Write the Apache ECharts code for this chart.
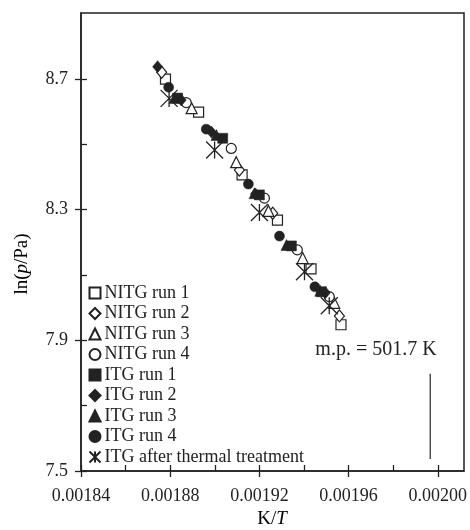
<!DOCTYPE html>
<html>
<head>
<meta charset="utf-8">
<script src="https://cdn.jsdelivr.net/npm/echarts@6/dist/echarts.min.js"></script>
<style>html,body{margin:0;padding:0;background:#fff;}#c{width:470px;height:530px;}</style>
</head>
<body>
<div id="c"></div>
<script>
// ---- data ----
var xTicks = [0.00184, 0.00188, 0.00192, 0.00196, 0.00200];
var yTicks = [7.5, 7.9, 8.3, 8.7];
var seriesNames = ['NITG run 1','NITG run 2','NITG run 3','NITG run 4','ITG run 1','ITG run 2','ITG run 3','ITG run 4','ITG after thermal treatment'];
var nitg1 = [[0.0018775,8.698],[0.0018922,8.597],[0.0019115,8.405],[0.0019272,8.267],[0.0019421,8.118],[0.0019554,7.947]];
var nitg2 = [[0.0018758,8.719],[0.0019103,8.420],[0.0019251,8.288],[0.0019547,7.974]];
var nitg3 = [[0.0018891,8.609],[0.0019089,8.444],[0.0019232,8.295],[0.0019384,8.151],[0.0019524,8.014]];
var nitg4 = [[0.0018867,8.626],[0.0019067,8.486],[0.0019214,8.334],[0.0019360,8.176],[0.0019502,8.033]];
var itg1 = [[0.0018829,8.640],[0.0019029,8.517],[0.0019192,8.344],[0.0019334,8.188],[0.0019467,8.048]];
var itg2 = [[0.0018740,8.736],[0.0018845,8.634],[0.0018979,8.536],[0.0019174,8.347],[0.0019485,8.045]];
var itg3 = [[0.0018815,8.640],[0.0019001,8.527],[0.0019170,8.349],[0.0019312,8.191],[0.0019462,8.051]];
var itg4 = [[0.0018789,8.673],[0.0018956,8.545],[0.0019143,8.377],[0.0019281,8.218],[0.0019438,8.063]];
var itgHeat = [[0.0018791,8.639],[0.0018993,8.481],[0.0019192,8.290],[0.0019392,8.109],[0.0019502,8.005]];
var mpLine = [[0.001995,7.537],[0.001995,7.797]];
var mpText = 'm.p. = 501.7 K';

var INK = '#222';
var FONT = '"Liberation Serif","DejaVu Serif",serif';
var STAR = 'path://M0,0L10,10M10,0L0,10M5,0L5,10';

function sc(name, data, symbol, size, filled) {
  return {
    name: name, type: 'scatter', xAxisIndex: 0, yAxisIndex: 0,
    data: data, symbol: symbol, symbolSize: size,
    itemStyle: filled ? {color: INK, borderColor: INK, borderWidth: 0.5, opacity: 1}
                      : {color: '#fff', borderColor: INK, borderWidth: 1.2, opacity: 1},
    z: 3
  };
}

var chart = echarts.init(document.getElementById('c'), null, {renderer: 'canvas'});
var axisText = {color: INK, fontFamily: FONT, fontSize: 18};
var G0 = {left: 81, right: 6, top: 13, bottom: 59};
var G1 = {left: 81, right: 28, top: 79, bottom: 59};

chart.setOption({
  animation: false,
  backgroundColor: '#fff',
  grid: [
    {left: G0.left, right: G0.right, top: G0.top, bottom: G0.bottom, show: true, borderColor: INK, borderWidth: 1.5, backgroundColor: 'transparent'},
    {left: G1.left, right: G1.right, top: G1.top, bottom: G1.bottom, show: false}
  ],
  xAxis: [
    {gridIndex: 0, type: 'value', min: 0.00184, max: 0.00201, position: 'bottom',
     axisLine: {lineStyle: {color: INK, width: 1.5}}, axisTick: {show: false}, axisLabel: {show: false}, splitLine: {show: false}},
    {gridIndex: 1, type: 'value', min: xTicks[0], max: xTicks[xTicks.length-1], interval: 0.00004, position: 'bottom',
     axisLine: {show: false}, axisTick: {show: true, inside: true, length: 6, lineStyle: {color: INK, width: 1.3}},
     minorTick: {show: true, splitNumber: 2, length: 6, lineStyle: {color: INK, width: 1.3}},
     axisLabel: {show: false}, splitLine: {show: false}},
    {gridIndex: 1, type: 'value', min: xTicks[0], max: xTicks[xTicks.length-1], interval: 0.00004, position: 'bottom',
     axisLine: {show: false}, axisTick: {show: true, inside: false, length: 6, lineStyle: {color: INK, width: 1.3}},
     axisLabel: Object.assign({margin: 16, formatter: function(v){return v.toFixed(5);}}, axisText), splitLine: {show: false}}
  ],
  yAxis: [
    {gridIndex: 0, type: 'value', min: 7.5, max: 8.9, position: 'left',
     axisLine: {lineStyle: {color: INK, width: 1.5}}, axisTick: {show: false}, axisLabel: {show: false}, splitLine: {show: false}},
    {gridIndex: 1, type: 'value', min: yTicks[0], max: yTicks[yTicks.length-1], interval: 0.4, position: 'left',
     axisLine: {show: false}, axisTick: {show: true, inside: true, length: 6, lineStyle: {color: INK, width: 1.3}},
     minorTick: {show: true, splitNumber: 2, length: 6, lineStyle: {color: INK, width: 1.3}},
     axisLabel: {show: false}, splitLine: {show: false}},
    {gridIndex: 1, type: 'value', min: yTicks[0], max: yTicks[yTicks.length-1], interval: 0.4, position: 'left',
     axisLine: {show: false}, axisTick: {show: true, inside: false, length: 6, lineStyle: {color: INK, width: 1.3}},
     axisLabel: Object.assign({margin: 13, formatter: function(v){return v.toFixed(1);}}, axisText), splitLine: {show: false}}
  ],
  legend: {
    data: seriesNames, orient: 'vertical', left: 87, top: 284, padding: 0,
    itemWidth: 11, itemHeight: 11, itemGap: 2.5,
    textStyle: {color: INK, fontFamily: FONT, fontSize: 18, lineHeight: 18, padding: [0,0,0,-1]},
    selectedMode: false
  },
  series: [
    sc(seriesNames[0], nitg1, 'rect', 10, false),
    sc(seriesNames[1], nitg2, 'diamond', [10,12], false),
    sc(seriesNames[2], nitg3, 'triangle', 11, false),
    sc(seriesNames[3], nitg4, 'circle', 10, false),
    sc(seriesNames[4], itg1, 'rect', 10, true),
    sc(seriesNames[5], itg2, 'diamond', [10,12], true),
    sc(seriesNames[6], itg3, 'triangle', 11, true),
    sc(seriesNames[7], itg4, 'circle', 10, true),
    {name: seriesNames[8], type: 'scatter', xAxisIndex: 0, yAxisIndex: 0, data: itgHeat,
     symbol: STAR, symbolSize: 17, itemStyle: {color: 'none', borderColor: INK, borderWidth: 1.3, opacity: 1}, z: 4},
    {name: 'mp', type: 'line', xAxisIndex: 0, yAxisIndex: 0, data: mpLine, symbol: 'none',
     lineStyle: {color: INK, width: 1.2}, silent: true}
  ],
  graphic: [
    {type: 'text', x: 376, y: 350, style: {text: mpText, fill: INK, font: '20px ' + FONT, align: 'center', verticalAlign: 'middle'}},
    {type: 'text', x: 272, y: 519, style: {text: '{a|K/}{b|T}', align: 'center', verticalAlign: 'middle',
      rich: {a: {fontFamily: FONT, fontSize: 19, color: INK}, b: {fontFamily: FONT, fontSize: 19, fontStyle: 'italic', color: INK}}}},
    {type: 'text', x: 22, y: 264, rotation: Math.PI/2, style: {text: '{a|ln(}{b|p}{a|/Pa)}', align: 'center', verticalAlign: 'middle',
      rich: {a: {fontFamily: FONT, fontSize: 19, color: INK}, b: {fontFamily: FONT, fontSize: 19, fontStyle: 'italic', color: INK}}}}
  ]
});
</script>
</body>
</html>
